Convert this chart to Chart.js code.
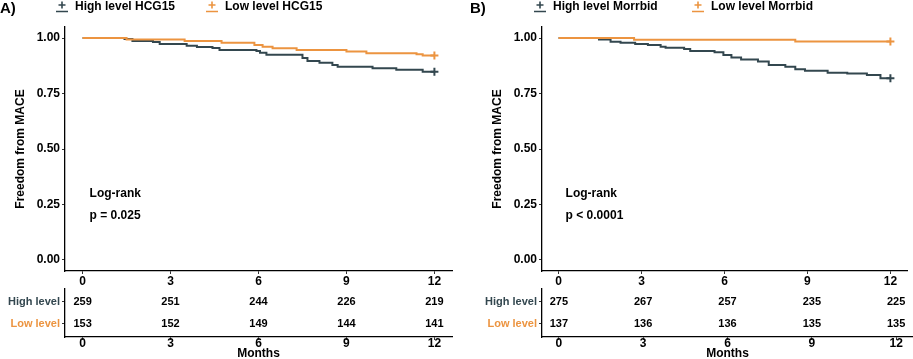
<!DOCTYPE html>
<html>
<head>
<meta charset="utf-8">
<script src="https://cdn.jsdelivr.net/npm/chart.js@4.4.0/dist/chart.umd.min.js"></script>
<style>
    body { margin: 0; background: #fff; }
    #wrap { position: relative; width: 913px; height: 359px; overflow: hidden; }
    canvas { position: absolute; }
</style>
</head>
<body>
<div id="wrap">
    <canvas id="kmA" width="460" height="290" style="left:0px;top:0px"></canvas>
    <canvas id="tabA" width="460" height="80" style="left:0px;top:280px"></canvas>
    <canvas id="kmB" width="453" height="290" style="left:460px;top:0px"></canvas>
    <canvas id="tabB" width="453" height="80" style="left:460px;top:280px"></canvas>
</div>
<script>
// axis ticks
const monthTicks = [0, 3, 6, 9, 12];
const survTicks = [0, 0.25, 0.5, 0.75, 1];

// A) HCG15 curves (time in months, survival)
const hcgHighTimes = [0, 1.43, 1.7, 2.4, 2.63, 3.55, 3.9, 4.43, 4.67, 5.93, 6.05, 6.27, 7.5, 7.67, 8.08, 8.52, 8.7, 9.89, 10.7, 11.6, 12];
const hcgHighSurv  = [1, 0.996, 0.987, 0.982, 0.973, 0.965, 0.96, 0.955, 0.946, 0.942, 0.934, 0.925, 0.91, 0.897, 0.889, 0.879, 0.871, 0.864, 0.857, 0.848, 0.848];
const hcgLowTimes  = [0, 1.5, 3.48, 4.74, 5.86, 6.14, 6.48, 7.3, 9.0, 9.68, 11.39, 11.6, 12];
const hcgLowSurv   = [1, 0.994, 0.987, 0.979, 0.969, 0.961, 0.954, 0.946, 0.939, 0.932, 0.927, 0.921, 0.921];

// B) Morrbid curves
const morHighTimes = [0, 1.46, 1.88, 2.24, 2.77, 3.23, 3.69, 3.87, 4.54, 4.76, 5.64, 5.96, 6.25, 6.6, 7.21, 7.6, 8.2, 8.56, 8.91, 9.73, 10.44, 11.15, 11.64, 12];
const morHighSurv  = [1, 0.994, 0.983, 0.979, 0.973, 0.969, 0.961, 0.957, 0.951, 0.942, 0.936, 0.924, 0.912, 0.904, 0.894, 0.879, 0.871, 0.86, 0.853, 0.844, 0.84, 0.834, 0.819, 0.819];
const morLowTimes  = [0, 2.73, 8.56, 12];
const morLowSurv   = [1, 0.993, 0.985, 0.985];

// numbers at risk
const hcgHighRisk = [259, 251, 244, 226, 219];
const hcgLowRisk  = [153, 152, 149, 144, 141];
const morHighRisk = [275, 267, 257, 235, 225];
const morLowRisk  = [137, 136, 136, 135, 135];

const DARK = '#33474F';
const ORANGE = '#EC9440';
const FONT = "'Liberation Sans', Arial, sans-serif";

Chart.defaults.font.family = FONT;
Chart.defaults.font.weight = 'bold';
Chart.defaults.color = '#000';

function setTicks(values) {
    return function (scale) {
        scale.ticks = values.map(v => ({ value: v }));
    };
}

// panel tag, legend keys and log-rank text
const kmDecor = {
    id: 'kmDecor',
    afterDraw(chart, args, o) {
        const ctx = chart.ctx;
        ctx.save();
        ctx.textBaseline = 'middle';
        ctx.fillStyle = '#000';
        ctx.font = 'bold 15px ' + FONT;
        ctx.fillText(o.tag, o.tagX, 9);

        o.keys.forEach(k => {
            ctx.strokeStyle = k.color;
            ctx.lineWidth = 1.6;
            ctx.beginPath();
            ctx.moveTo(k.x - 3.5, 5); ctx.lineTo(k.x + 3.5, 5);
            ctx.moveTo(k.x, 1.5); ctx.lineTo(k.x, 8.5);
            ctx.moveTo(k.x - 6, 11.5); ctx.lineTo(k.x + 6, 11.5);
            ctx.stroke();
            ctx.fillStyle = '#000';
            ctx.font = 'bold 12px ' + FONT;
            ctx.fillText(k.text, k.x + 13, 7);
        });

        const x = chart.scales.x.getPixelForValue(0) + 7;
        ctx.font = 'bold 12px ' + FONT;
        ctx.fillText('Log-rank', x, chart.scales.y.getPixelForValue(0.3));
        ctx.fillText(o.pval, x, chart.scales.y.getPixelForValue(0.2));
        ctx.restore();
    }
};

// numbers drawn at each risk point
const riskLabels = {
    id: 'riskLabels',
    afterDatasetsDraw(chart) {
        const ctx = chart.ctx;
        ctx.save();
        ctx.font = 'bold 11px ' + FONT;
        ctx.fillStyle = '#000';
        ctx.textAlign = 'center';
        ctx.textBaseline = 'middle';
        chart.data.datasets.forEach((ds, i) => {
            chart.getDatasetMeta(i).data.forEach((pt, j) => {
                ctx.fillText(String(ds.data[j].n), pt.x, pt.y);
            });
        });
        ctx.restore();
    }
};

function curve(times, surv, color) {
    return {
        data: times.map((t, i) => ({ x: t, y: surv[i] })),
        stepped: true,
        borderColor: color,
        borderWidth: 2,
        fill: false,
        pointStyle: 'cross',
        pointRadius: times.map((t, i) => i === times.length - 1 ? 4 : 0),
        pointBorderWidth: 2,
        pointBorderColor: color,
        pointBackgroundColor: color
    };
}

const axisGrid = { drawOnChartArea: false, drawTicks: true, tickLength: 3, color: '#333' };
const axisBorder = { display: true, color: '#000', width: 1.3 };

function renderKm({ elementId, high, low, axisW, padRight, titlePad, decor }) {
    new Chart(document.getElementById(elementId), {
        type: 'line',
        data: { datasets: [curve(low[0], low[1], ORANGE), curve(high[0], high[1], DARK)] },
        options: {
            responsive: false,
            animation: false,
            layout: { padding: { top: 27, right: padRight, left: 0, bottom: 0 } },
            plugins: { legend: { display: false }, tooltip: { enabled: false }, kmDecor: decor },
            scales: {
                x: {
                    type: 'linear', min: -0.6, max: 12.6,
                    afterBuildTicks: setTicks(monthTicks),
                    afterFit: s => { s.height = 19; },
                    grid: axisGrid, border: axisBorder,
                    ticks: { font: { size: 12 }, padding: 0, maxRotation: 0, autoSkip: false }
                },
                y: {
                    type: 'linear', min: -0.05, max: 1.05,
                    afterBuildTicks: setTicks(survTicks),
                    afterFit: s => { s.width = axisW; },
                    grid: axisGrid, border: axisBorder,
                    ticks: { font: { size: 12 }, padding: 2, autoSkip: false, callback: v => v.toFixed(2) },
                    title: { display: true, text: 'Freedom from MACE', font: { size: 12 }, padding: { top: titlePad, bottom: 0 } }
                }
            }
        },
        plugins: [kmDecor]
    });
}

function renderTable({ elementId, highRisk, lowRisk, axisW, padRight }) {
    const row = (vals, y) => ({
        data: monthTicks.map((m, i) => ({ x: m, y: y, n: vals[i] })),
        pointRadius: 0, showLine: false
    });
    new Chart(document.getElementById(elementId), {
        type: 'scatter',
        data: { datasets: [row(highRisk, 2), row(lowRisk, 1)] },
        options: {
            responsive: false,
            animation: false,
            layout: { padding: { top: 5, right: padRight, left: 0, bottom: 0 } },
            plugins: { legend: { display: false }, tooltip: { enabled: false } },
            scales: {
                x: {
                    type: 'linear', min: -0.6, max: 12.6,
                    afterBuildTicks: setTicks(monthTicks),
                    afterFit: s => { s.height = 23; },
                    grid: axisGrid, border: axisBorder,
                    ticks: { font: { size: 12, lineHeight: 1 }, padding: -2, maxRotation: 0, autoSkip: false },
                    title: { display: true, text: 'Months', font: { size: 12, lineHeight: 1 }, padding: 0 }
                },
                y: {
                    type: 'linear', min: 0.4, max: 2.6,
                    afterBuildTicks: setTicks([1, 2]),
                    afterFit: s => { s.width = axisW; },
                    grid: axisGrid, border: axisBorder,
                    ticks: {
                        font: { size: 11 }, padding: 2, autoSkip: false,
                        color: c => c.tick && c.tick.value === 2 ? DARK : ORANGE,
                        callback: v => v === 2 ? 'High level' : 'Low level'
                    }
                }
            }
        },
        plugins: [riskLabels]
    });
}

renderKm({
    elementId: 'kmA',
    high: [hcgHighTimes, hcgHighSurv],
    low: [hcgLowTimes, hcgLowSurv],
    axisW: 65, padRight: 8, titlePad: 13,
    decor: {
        tag: 'A)', tagX: 0, pval: 'p = 0.025',
        keys: [
            { x: 62, color: DARK, text: 'High level HCG15' },
            { x: 212, color: ORANGE, text: 'Low level HCG15' }
        ]
    }
});

renderTable({ elementId: 'tabA', highRisk: hcgHighRisk, lowRisk: hcgLowRisk, axisW: 65, padRight: 8 });

renderKm({
    elementId: 'kmB',
    high: [morHighTimes, morHighSurv],
    low: [morLowTimes, morLowSurv],
    axisW: 82, padRight: 0, titlePad: 30,
    decor: {
        tag: 'B)', tagX: 10, pval: 'p < 0.0001',
        keys: [
            { x: 80, color: DARK, text: 'High level Morrbid' },
            { x: 238, color: ORANGE, text: 'Low level Morrbid' }
        ]
    }
});

renderTable({ elementId: 'tabB', highRisk: morHighRisk, lowRisk: morLowRisk, axisW: 82, padRight: 0 });
</script>
</body>
</html>
